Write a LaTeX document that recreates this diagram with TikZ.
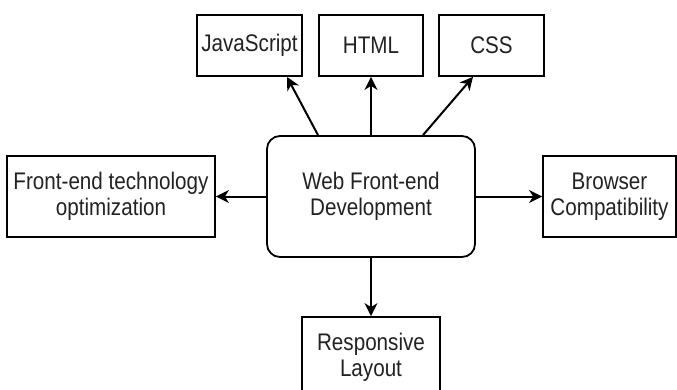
\documentclass[tikz,border=0pt]{standalone}
\usepackage{fontspec}
\setmainfont{Liberation Sans}[FakeStretch=0.86]
\usetikzlibrary{arrows.meta}
\definecolor{txt}{HTML}{222222}
\tikzset{
  box/.style={draw=black, line width=1.8pt, rectangle, align=center, text=txt,
    font=\fontsize{24}{26}\selectfont, inner sep=0pt},
  arr/.style={draw=black, line width=2pt, -{Stealth[length=13pt,width=13pt,inset=4pt]}}
}
\begin{document}
\begin{tikzpicture}[x=1pt,y=-1pt]
\useasboundingbox (0,0) rectangle (677,389);
\node[box, minimum width=105, minimum height=61] (js) at (249.5,45.5) {JavaScript};
\node[box, minimum width=104, minimum height=61] (html) at (371,45.5) {HTML};
\node[box, minimum width=105, minimum height=61] (css) at (491.5,45.5) {CSS};
\node[box, rounded corners=13pt, minimum width=208, minimum height=121] (c) at (371,196.5) {Web Front-end\\Development};
\node[box, minimum width=208, minimum height=81] (fe) at (111,196.5) {Front-end technology\\optimization};
\node[box, minimum width=133, minimum height=81] (bc) at (609.5,196.5) {Browser\\Compatibility};
\node[box, minimum width=138, minimum height=81] (rl) at (371,357.5) {Responsive\\Layout};
\draw[arr] ([xshift=-53pt]c.north) -- ([xshift=37.5pt]js.south);
\draw[arr] (c.north) -- (html.south);
\draw[arr] ([xshift=52pt]c.north) -- ([xshift=-18.5pt]css.south);
\draw[arr] (c.west) -- (fe.east);
\draw[arr] (c.east) -- (bc.west);
\draw[arr] (c.south) -- (rl.north);
\end{tikzpicture}
\end{document}
